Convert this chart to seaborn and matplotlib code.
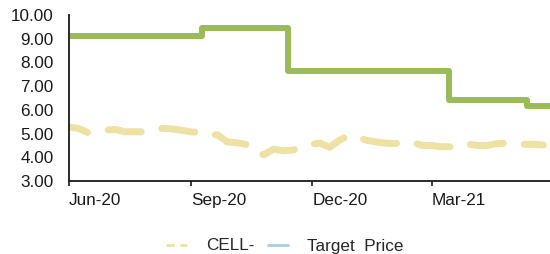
import pandas as pd
import matplotlib.pyplot as plt
import matplotlib.dates as mdates
from matplotlib.lines import Line2D
import seaborn as sns

# Dados
semanas = pd.date_range('2020-06-01', periods=52, freq='7D')
cell = [5.28, 5.22, 5.05, 5.12, 5.15, 5.18, 5.08, 5.08, 5.08, 5.12,
        5.22, 5.20, 5.15, 5.08, 5.05, 4.95, 4.95, 4.65, 4.62, 4.55,
        4.15, 4.12, 4.35, 4.28, 4.30, 4.42, 4.55, 4.60, 4.42, 4.70,
        4.92, 4.85, 4.72, 4.65, 4.60, 4.58, 4.65, 4.62, 4.50, 4.50,
        4.45, 4.45, 4.58, 4.55, 4.50, 4.50, 4.58, 4.60, 4.58, 4.55,
        4.55, 4.52]

alvo_datas = pd.to_datetime(['2020-06-01', '2020-09-09', '2020-11-13',
                             '2021-03-14', '2021-05-12', '2021-05-31'])
alvo = [9.10, 9.45, 7.65, 6.40, 6.15, 6.15]

df_cell = pd.DataFrame({'Data': semanas, 'CELL': cell})
df_alvo = pd.DataFrame({'Data': alvo_datas, 'Alvo': alvo})

sns.set_style('ticks')
plt.rcParams['font.family'] = ['Liberation Sans', 'DejaVu Sans']
plt.rcParams['lines.scale_dashes'] = False

cor_cell = '#EDE2A4'
cor_verde = '#9BBB59'
cor_azul = '#A9CDE0'

fig, ax = plt.subplots(figsize=(5.5, 2.54), dpi=100)
fig.subplots_adjust(left=0.1255, right=1.0, top=0.941, bottom=0.287)

sns.lineplot(data=df_cell, x='Data', y='CELL', ax=ax, color=cor_cell,
             linewidth=5.0)
ax.lines[-1].set_linestyle((10, (24, 15)))
ax.lines[-1].set_dash_capstyle('round')

sns.lineplot(data=df_alvo, x='Data', y='Alvo', ax=ax, color=cor_azul,
             linewidth=3.0, drawstyle='steps-post')
sns.lineplot(data=df_alvo, x='Data', y='Alvo', ax=ax, color=cor_verde,
             linewidth=4.3, drawstyle='steps-post')

ax.set_ylim(3, 10)
ax.set_yticks([3, 4, 5, 6, 7, 8, 9, 10])
ax.set_yticklabels(['%.2f' % v for v in range(3, 11)])
ax.set_xlim(pd.Timestamp('2020-06-01'), pd.Timestamp('2021-05-29'))
ax.xaxis.set_major_locator(mdates.MonthLocator(bymonth=[3, 6, 9, 12]))
ax.xaxis.set_major_formatter(mdates.DateFormatter('%b-%y'))
for lbl in ax.get_xticklabels():
    lbl.set_horizontalalignment('left')

ax.set_xlabel('')
ax.set_ylabel('')
ax.tick_params(axis='y', length=0, pad=11, labelsize=12.3, colors='#1a1a1a')
ax.tick_params(axis='x', length=3.5, width=1.2, pad=5, labelsize=12.3,
               colors='#1a1a1a')
sns.despine(ax=ax)
ax.spines['left'].set_linewidth(1.3)
ax.spines['bottom'].set_linewidth(1.3)
ax.spines['left'].set_color('#1a1a1a')
ax.spines['bottom'].set_color('#1a1a1a')

handles = [Line2D([], [], color=cor_cell, linewidth=2, dashes=(6, 4)),
           Line2D([], [], color=cor_azul, linewidth=2)]
fig.legend(handles, ['CELL-', 'Target  Price'], loc='center', ncol=2,
           bbox_to_anchor=(285 / 550, 1 - 246 / 254), frameon=False,
           fontsize=12.3, handlelength=1.2, handletextpad=1.1,
           columnspacing=0.8)

plt.savefig('out.png', dpi=100)
